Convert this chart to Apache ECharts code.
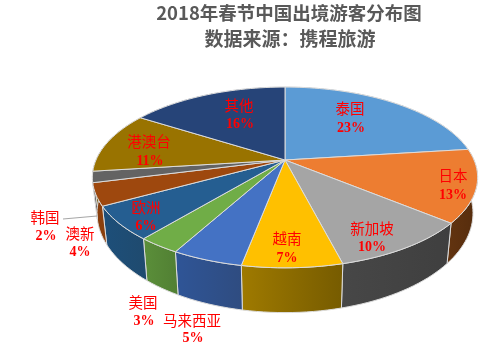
<!DOCTYPE html>
<html><head><meta charset="utf-8">
<style>html,body{margin:0;padding:0;background:#fff}#c{width:496px;height:355px}</style>
<script src="https://cdn.jsdelivr.net/npm/echarts@6/dist/echarts.min.js"></script>
</head><body><div id="c"></div>
<script>
const categories = ['泰国','日本','新加坡','越南','马来西亚','美国','欧洲','澳新','韩国','港澳台','其他'];
const shares = [23,13,10,7,5,3,6,4,2,11,16];
const topColors = ['#5b9bd5','#ed7d31','#a5a5a5','#ffc000','#4472c4','#70ad47','#255e91','#9e480e','#636363','#997300','#264478'];
const wallLeft = ['#37618a','#633410','#474747','#9f7a00','#2f5597','#5b8f3a','#1d4f7a','#8a3f0c','#444','#6a5000','#1c3360'];
const wallRight = ['#37618a','#552c0d','#3f3f3f','#765b00','#2f4c80','#517f33','#1f4a6e','#8a3f0c','#444','#6a5000','#1c3360'];
const titleLines = ['2018年春节中国出境游客分布图','数据来源：携程旅游'];
// label anchor: [name x, name y, percent x, percent y]
const labelAnchors = [
 [350,108,351,128],[453,175,453,195],[372,228,372,247],[287,238,287,258],
 [192,320,193,338],[143,302,144,321],[146,207,146,226],[80,233,80,252],
 [45,217,46,236],[149,141,150,161],[239,105,240,124]];
const leaderIndex = 8;
const leaderLine = [[63,219],[97,216]];

// projection of the tilted disc
const P = {cx:285, cy:160, a:189, b:87, k:0.193, sx:0.976, sy:1.1, h:34};
const total = shares.reduce((s,v)=>s+v,0);
function startShare(i){let s=0;for(let j=0;j<i;j++)s+=shares[j];return s;}
function project(share){
  const t = share/total*2*Math.PI, u=Math.sin(t), v=-Math.cos(t), d=1-P.k*v;
  return [P.a*u/d, P.b*v/d];
}
const topPt = s=>{const p=project(s);return [P.cx+p[0],P.cy+p[1]];};
const botPt = s=>{const p=project(s);return [P.cx+p[0]*P.sx,P.cy+P.h+p[1]*P.sy];};
function arc(i,fn){
  const s0=startShare(i), s1=s0+shares[i], n=Math.ceil(shares[i]*2), out=[];
  for(let j=0;j<=n;j++) out.push(fn(s0+(s1-s0)*j/n));
  return out;
}
const edge = '#dcdcdc';
const data = categories.map((c,i)=>[i,shares[i]]);

const chart = echarts.init(document.getElementById('c'),null,{renderer:'canvas'});
chart.setOption({
  animation:false,
  backgroundColor:'#fff',
  title:[
    {text:titleLines[0],left:284,textAlign:'center',top:-1,textStyle:{fontFamily:'"Noto Sans CJK SC"',fontSize:18.5,fontWeight:'bold',color:'#595959'}},
    {text:titleLines[1],left:285,textAlign:'center',top:24,textStyle:{fontFamily:'"Noto Sans CJK SC"',fontSize:19,fontWeight:'bold',color:'#595959'}}
  ],
  series:[
    {type:'custom',coordinateSystem:'none',silent:true,z:1,data,
     renderItem(params,api){
       const i=api.value(0);
       const pts=arc(i,topPt).concat(arc(i,botPt).reverse());
       return {type:'polygon',shape:{points:pts},style:{
         fill:{type:'linear',x:0,y:0,x2:1,y2:0,colorStops:[{offset:0,color:wallLeft[i]},{offset:1,color:wallRight[i]}]},
         stroke:edge,lineWidth:1}};
     }},
    {type:'custom',coordinateSystem:'none',silent:true,z:2,data,
     renderItem(params,api){
       const i=api.value(0);
       const pts=[[P.cx,P.cy]].concat(arc(i,topPt));
       return {type:'polygon',shape:{points:pts},style:{fill:topColors[i],stroke:edge,lineWidth:1}};
     }},
    {type:'custom',coordinateSystem:'none',silent:true,z:3,data,
     renderItem(params,api){
       const i=api.value(0), a=labelAnchors[i];
       const font='14.5px "Noto Sans CJK SC"', pfont='bold 14px "Liberation Serif"';
       const kids=[
         {type:'text',style:{text:categories[i],x:a[0],y:a[1],fill:'#ff0000',font,textAlign:'center',textVerticalAlign:'middle'}},
         {type:'text',style:{text:api.value(1)+'%',x:a[2],y:a[3],fill:'#ff0000',font:pfont,textAlign:'center',textVerticalAlign:'middle'}}
       ];
       if(i===leaderIndex) kids.push({type:'polyline',shape:{points:leaderLine},style:{stroke:'#a6a6a6',lineWidth:1,fill:null}});
       return {type:'group',children:kids};
     }}
  ]
});
</script></body></html>
